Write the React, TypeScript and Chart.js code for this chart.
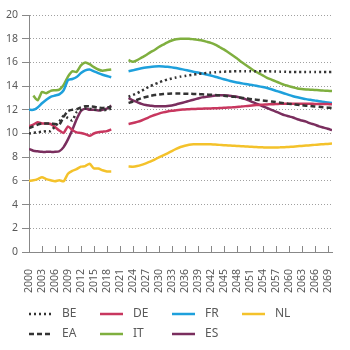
import React, { useEffect, useRef } from "react";
import { Chart, registerables } from "chart.js";
Chart.register(...registerables);

const histYears = [2000, 2001, 2002, 2003, 2004, 2005, 2006, 2007, 2008, 2009, 2010, 2011, 2012, 2013, 2014, 2015, 2016, 2017, 2018, 2019];
const projYears = [2023, 2024, 2025, 2026, 2027, 2028, 2029, 2030, 2031, 2032, 2033, 2034, 2035, 2036, 2037, 2038, 2039, 2040, 2041, 2042, 2043, 2044, 2045, 2046, 2047, 2048, 2049, 2050, 2051, 2052, 2053, 2054, 2055, 2056, 2057, 2058, 2059, 2060, 2061, 2062, 2063, 2064, 2065, 2066, 2067, 2068, 2069, 2070];
const gapYear = 2021;
const xTickYears = [2000, 2003, 2006, 2009, 2012, 2015, 2018, 2021, 2024, 2027, 2030, 2033, 2036, 2039, 2042, 2045, 2048, 2051, 2054, 2057, 2060, 2063, 2066, 2069];
const yTickValues = [0, 2, 4, 6, 8, 10, 12, 14, 16, 18, 20];

const beHist = [10.0, 10.05, 10.1, 10.15, 10.2, 10.2, 10.6, 11.0, 11.5, 11.3, 11.1, 11.8, 12.0, 12.1, 12.1, 12.0, 12.0, 11.95, 12.0, 12.1];
const beProj = [13.1, 13.25, 13.4, 13.6, 13.8, 14.0, 14.15, 14.3, 14.45, 14.55, 14.65, 14.72, 14.8, 14.86, 14.92, 14.97, 15.02, 15.06, 15.1, 15.14, 15.17, 15.2, 15.22, 15.23, 15.24, 15.25, 15.26, 15.26, 15.26, 15.26, 15.25, 15.25, 15.25, 15.24, 15.23, 15.22, 15.21, 15.2, 15.2, 15.19, 15.19, 15.19, 15.19, 15.19, 15.19, 15.19, 15.19, 15.2];

const eaHist = [10.45, 10.6, 10.75, 10.85, 10.85, 10.85, 10.8, 10.75, 11.4, 11.9, 12.0, 12.05, 12.2, 12.3, 12.3, 12.25, 12.2, 12.15, 12.2, 12.25];
const eaProj = [12.57, 12.7, 12.85, 12.98, 13.08, 13.17, 13.24, 13.29, 13.33, 13.35, 13.37, 13.37, 13.37, 13.36, 13.35, 13.34, 13.33, 13.31, 13.29, 13.27, 13.24, 13.22, 13.19, 13.15, 13.11, 13.07, 13.02, 12.97, 12.92, 12.87, 12.83, 12.79, 12.75, 12.7, 12.65, 12.6, 12.55, 12.5, 12.47, 12.43, 12.39, 12.35, 12.32, 12.28, 12.25, 12.21, 12.18, 12.15];

const deHist = [10.6, 10.75, 10.95, 10.85, 10.85, 10.8, 10.55, 10.25, 10.05, 10.6, 10.3, 10.1, 10.05, 9.95, 9.8, 10.0, 10.1, 10.15, 10.2, 10.35];
const deProj = [10.8, 10.88, 10.98, 11.1, 11.25, 11.42, 11.56, 11.68, 11.78, 11.86, 11.92, 11.96, 12.0, 12.03, 12.05, 12.07, 12.08, 12.09, 12.11, 12.12, 12.13, 12.15, 12.17, 12.19, 12.21, 12.24, 12.27, 12.31, 12.35, 12.38, 12.41, 12.43, 12.45, 12.47, 12.48, 12.5, 12.51, 12.52, 12.52, 12.52, 12.52, 12.52, 12.51, 12.5, 12.5, 12.49, 12.48, 12.47];

const frHist = [12.0, 12.0, 12.2, 12.55, 12.85, 13.1, 13.2, 13.3, 13.65, 14.5, 14.6, 14.77, 15.1, 15.33, 15.4, 15.25, 15.1, 14.96, 14.85, 14.75];
const frProj = [15.25, 15.33, 15.42, 15.5, 15.57, 15.62, 15.65, 15.67, 15.66, 15.63, 15.58, 15.52, 15.45, 15.37, 15.29, 15.21, 15.14, 15.07, 14.98, 14.89, 14.79, 14.69, 14.58, 14.48, 14.39, 14.31, 14.24, 14.18, 14.12, 14.06, 13.99, 13.92, 13.84, 13.73, 13.61, 13.5, 13.38, 13.26, 13.15, 13.06, 12.98, 12.9, 12.84, 12.78, 12.73, 12.67, 12.62, 12.57];

const itHist = [null, 13.2, 12.8, 13.5, 13.4, 13.6, 13.65, 13.7, 14.1, 14.8, 15.25, 15.2, 15.75, 16.0, 15.85, 15.6, 15.4, 15.3, 15.35, 15.4];
const itProj = [16.2, 16.05, 16.2, 16.4, 16.6, 16.85, 17.05, 17.3, 17.5, 17.7, 17.85, 17.95, 18.0, 18.0, 18.0, 17.95, 17.9, 17.85, 17.75, 17.65, 17.5, 17.3, 17.1, 16.85, 16.6, 16.35, 16.05, 15.8, 15.55, 15.3, 15.1, 14.9, 14.7, 14.55, 14.4, 14.25, 14.1, 14.0, 13.9, 13.8, 13.75, 13.72, 13.7, 13.68, 13.65, 13.62, 13.6, 13.58];

const esHist = [8.7, 8.55, 8.5, 8.45, 8.45, 8.45, 8.45, 8.5, 8.85, 9.5, 10.3, 11.2, 11.9, 12.1, 12.0, 12.0, 11.95, 12.0, 12.1, 12.35];
const esProj = [13.0, 12.8, 12.65, 12.5, 12.4, 12.35, 12.3, 12.3, 12.3, 12.32, 12.37, 12.45, 12.55, 12.65, 12.75, 12.85, 12.95, 13.05, 13.1, 13.15, 13.2, 13.22, 13.22, 13.2, 13.15, 13.1, 13.0, 12.9, 12.75, 12.6, 12.45, 12.3, 12.15, 12.0, 11.85, 11.7, 11.55, 11.45, 11.35, 11.2, 11.1, 11.0, 10.85, 10.75, 10.6, 10.5, 10.4, 10.28];

const nlHist = [6.0, 6.05, 6.15, 6.3, 6.15, 6.05, 5.97, 6.05, 5.97, 6.6, 6.85, 7.0, 7.2, 7.25, 7.45, 7.05, 7.05, 6.9, 6.8, 6.8];
const nlProj = [7.22, 7.2, 7.25, 7.35, 7.48, 7.62, 7.8, 7.98, 8.15, 8.33, 8.52, 8.7, 8.86, 8.97, 9.05, 9.09, 9.1, 9.1, 9.1, 9.09, 9.07, 9.04, 9.01, 8.99, 8.97, 8.95, 8.93, 8.91, 8.89, 8.87, 8.85, 8.83, 8.81, 8.81, 8.82, 8.83, 8.85, 8.87, 8.89, 8.92, 8.95, 8.98, 9.01, 9.04, 9.07, 9.1, 9.12, 9.15];

const legendRows = [["BE", "DE", "FR", "NL"], ["EA", "IT", "ES"]];

const FONT = "'Noto Sans', 'DejaVu Sans', sans-serif";
const TEXT = "#595959";

function toPoints(hist: (number | null)[], proj: number[]) {
  return [
    ...histYears.map((x, i) => ({ x, y: hist[i] })),
    { x: gapYear, y: null },
    ...projYears.map((x, i) => ({ x, y: proj[i] })),
  ];
}

const innerTicks = {
  id: "innerTicks",
  beforeDatasetsDraw(chart: any) {
    const xs = chart.scales.x;
    const { ctx, chartArea } = chart;
    ctx.save();
    ctx.strokeStyle = "#888";
    ctx.lineWidth = 1;
    ctx.setLineDash([]);
    xs.ticks.forEach((t: any) => {
      const px = Math.round(xs.getPixelForValue(t.value)) + 0.5;
      ctx.beginPath();
      ctx.moveTo(px, chartArea.bottom - 6);
      ctx.lineTo(px, chartArea.bottom);
      ctx.stroke();
    });
    ctx.restore();
  },
};

const customLegend = {
  id: "customLegend",
  afterDraw(chart: any) {
    const { ctx } = chart;
    const colX = [29, 100, 172, 242];
    const rowY = [314, 334];
    ctx.save();
    legendRows.forEach((row, r) => {
      row.forEach((label, c) => {
        const ds = chart.data.datasets.find((d: any) => d.label === label);
        if (!ds) return;
        const x0 = colX[c];
        const y = rowY[r];
        ctx.beginPath();
        ctx.setLineDash(ds.borderDash || []);
        ctx.lineWidth = ds.borderWidth;
        ctx.strokeStyle = ds.borderColor;
        ctx.lineCap = "butt";
        ctx.moveTo(x0, y);
        ctx.lineTo(x0 + 23, y);
        ctx.stroke();
        ctx.setLineDash([]);
        ctx.fillStyle = TEXT;
        ctx.font = `12px ${FONT}`;
        ctx.textBaseline = "middle";
        ctx.textAlign = "left";
        ctx.fillText(label, x0 + 33, y);
      });
    });
    ctx.restore();
  },
};

export default function App() {
  const ref = useRef<HTMLCanvasElement>(null);
  useEffect(() => {
    document.body.style.margin = "0";
    const datasets = [
      { label: "BE", data: toPoints(beHist, beProj), borderColor: "#333333", borderWidth: 2.5, borderDash: [2, 3] },
      { label: "EA", data: toPoints(eaHist, eaProj), borderColor: "#333333", borderWidth: 2.5, borderDash: [5, 3] },
      { label: "DE", data: toPoints(deHist, deProj), borderColor: "#C8375F", borderWidth: 2.5 },
      { label: "ES", data: toPoints(esHist, esProj), borderColor: "#7A2E5E", borderWidth: 2.5 },
      { label: "FR", data: toPoints(frHist, frProj), borderColor: "#1EA0DC", borderWidth: 2.5 },
      { label: "IT", data: toPoints(itHist, itProj), borderColor: "#7FAF3F", borderWidth: 2.5 },
      { label: "NL", data: toPoints(nlHist, nlProj), borderColor: "#F4C22B", borderWidth: 2.5 },
    ].map((d) => ({ ...d, pointRadius: 0, fill: false, tension: 0.2, spanGaps: false }));

    const chart = new Chart(ref.current as HTMLCanvasElement, {
      type: "line",
      data: { datasets } as any,
      options: {
        animation: false,
        responsive: false,
        layout: { padding: { top: 15, right: 18, bottom: 0, left: 0 } },
        plugins: { legend: { display: false }, tooltip: { enabled: false } },
        scales: {
          x: {
            type: "linear",
            min: 2000,
            max: 2070,
            afterBuildTicks: (s: any) => {
              s.ticks = xTickYears.map((v) => ({ value: v }));
            },
            afterFit: (s: any) => {
              s.height = 98;
            },
            ticks: {
              autoSkip: false,
              maxRotation: 90,
              minRotation: 90,
              padding: 9,
              color: TEXT,
              font: { family: FONT, size: 10.5 },
              callback: (v: any) => String(v),
            },
            grid: { display: false },
            border: { display: true, color: "#888", width: 1 },
          },
          y: {
            min: 0,
            max: 20,
            afterBuildTicks: (s: any) => {
              s.ticks = yTickValues.map((v) => ({ value: v }));
            },
            afterFit: (s: any) => {
              s.width = 29;
            },
            ticks: {
              color: TEXT,
              font: { family: FONT, size: 10.5 },
              padding: 4,
            },
            grid: {
              color: "#a0a0a0",
              lineWidth: 1,
              tickLength: 7,
              tickColor: "#888",
              tickBorderDash: [],
            },
            border: { display: true, color: "#888", width: 1, dash: [1, 2] },
          },
        },
      } as any,
      plugins: [innerTicks, customLegend],
    });
    return () => chart.destroy();
  }, []);
  return (
    <div style={{ width: 350, height: 350 }}>
      <canvas ref={ref} width={350} height={350} style={{ width: 350, height: 350, display: "block" }} />
    </div>
  );
}
